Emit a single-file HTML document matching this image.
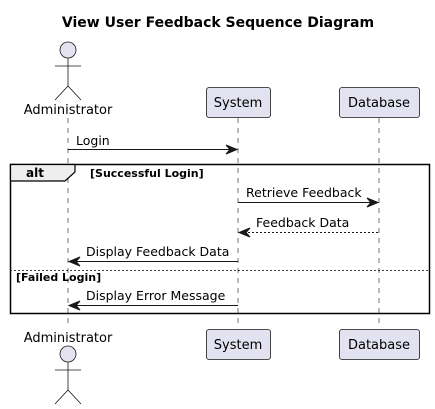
<!DOCTYPE html>
<html><head><style>html,body{margin:0;padding:0;background:#fff}svg{display:block}</style></head><body>
<svg width="435" height="409" viewBox="0 0 435 409" xmlns="http://www.w3.org/2000/svg" font-family="'DejaVu Sans','Liberation Sans',sans-serif">
<text x="218" y="27" text-anchor="middle" font-size="14" font-weight="bold">View User Feedback Sequence Diagram</text>
<g stroke="#181818" stroke-width="0.6" stroke-dasharray="5,5">
<line x1="68" y1="118" x2="68" y2="328"/>
<line x1="238" y1="118" x2="238" y2="328"/>
<line x1="379" y1="118" x2="379" y2="328"/>
</g>
<g fill="#E2E2F0" stroke="#181818" stroke-width="0.8">
<circle cx="68" cy="50" r="8"/>
<rect x="206.5" y="87.5" width="64" height="30" rx="2.5"/>
<rect x="339.5" y="87.5" width="80" height="30" rx="2.5"/>
<circle cx="68" cy="354" r="8"/>
<rect x="206.5" y="329.5" width="64" height="30" rx="2.5"/>
<rect x="339.5" y="329.5" width="80" height="30" rx="2.5"/>
</g>
<g stroke="#181818" stroke-width="0.8" fill="none">
<path d="M68 58V86M55 66H81M55 100L68 86L81 100"/>
<path d="M68 362V390M55 370H81M55 404L68 390L81 404"/>
</g>
<g font-size="13" fill="#000">
<text x="68" y="114" text-anchor="middle">Administrator</text>
<text x="238" y="107" text-anchor="middle">System</text>
<text x="379" y="107" text-anchor="middle">Database</text>
<text x="68" y="342" text-anchor="middle">Administrator</text>
<text x="238" y="349" text-anchor="middle">System</text>
<text x="379" y="349" text-anchor="middle">Database</text>
</g>
<rect x="10.5" y="164.5" width="419" height="149" fill="none" stroke="#000" stroke-width="1.5"/>
<path d="M10.5 164.5H75V172L65 181H10.5Z" fill="#EEEEEE" stroke="#000" stroke-width="1.2"/>
<text x="26" y="177" font-size="12" font-weight="bold">alt</text>
<text x="90" y="177" font-size="11" font-weight="bold">[Successful Login]</text>
<line x1="10" y1="270.5" x2="430" y2="270.5" stroke="#000" stroke-width="0.8" stroke-dasharray="2,2"/>
<text x="16" y="281" font-size="11" font-weight="bold">[Failed Login]</text>
<g stroke="#181818" stroke-width="1" fill="#181818">
<line x1="68" y1="149.5" x2="236" y2="149.5"/><path d="M226 145L237 149.5L226 154L230 149.5Z"/>
<line x1="238" y1="202.5" x2="377" y2="202.5"/><path d="M367 198L378 202.5L367 207L371 202.5Z"/>
<line x1="240" y1="232.5" x2="379" y2="232.5" stroke-dasharray="2,2"/><path d="M250 228L239 232.5L250 237L246 232.5Z"/>
<line x1="70" y1="261.5" x2="238" y2="261.5"/><path d="M80 257L69 261.5L80 266L76 261.5Z"/>
<line x1="70" y1="305.5" x2="238" y2="305.5"/><path d="M80 301L69 305.5L80 310L76 305.5Z"/>
</g>
<g font-size="12.5" fill="#000">
<text x="76" y="145">Login</text>
<text x="246" y="197">Retrieve Feedback</text>
<text x="256" y="227">Feedback Data</text>
<text x="86" y="256">Display Feedback Data</text>
<text x="86" y="300">Display Error Message</text>
</g>
</svg>
</body></html>
